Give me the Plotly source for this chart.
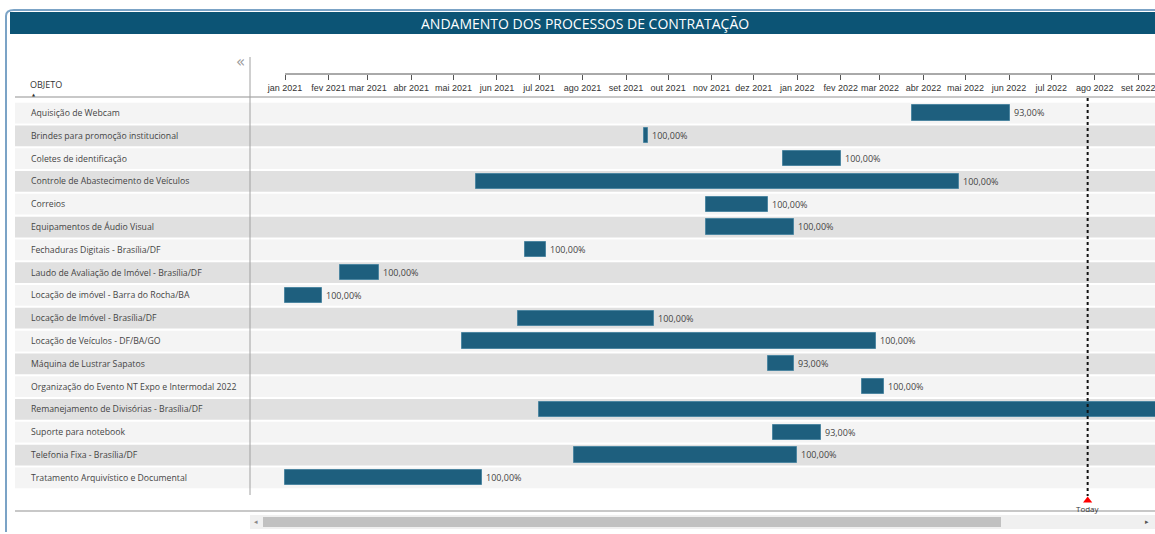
import pandas as pd
import plotly.graph_objects as go

objetos = [
    'Aquisição de Webcam',
    'Brindes para promoção institucional',
    'Coletes de identificação',
    'Controle de Abastecimento de Veículos',
    'Correios',
    'Equipamentos de Áudio Visual',
    'Fechaduras Digitais - Brasília/DF',
    'Laudo de Avaliação de Imóvel - Brasília/DF',
    'Locação de imóvel - Barra do Rocha/BA',
    'Locação de Imóvel - Brasília/DF',
    'Locação de Veículos - DF/BA/GO',
    'Máquina de Lustrar Sapatos',
    'Organização do Evento NT Expo e Intermodal 2022',
    'Remanejamento de Divisórias - Brasília/DF',
    'Suporte para notebook',
    'Telefonia Fixa - Brasília/DF',
    'Tratamento Arquivístico e Documental',
]
inicio = ['2022-03-24', '2021-09-14', '2021-12-22', '2021-05-17', '2021-10-28',
          '2021-10-28', '2021-06-21', '2021-02-09', '2021-01-01', '2021-06-16',
          '2021-05-07', '2021-12-11', '2022-02-16', '2021-07-01', '2021-12-15',
          '2021-07-26', '2021-01-01']
fim = ['2022-06-02', '2021-09-17', '2022-02-01', '2022-04-26', '2021-12-11',
       '2021-12-30', '2021-07-06', '2021-03-09', '2021-01-27', '2021-09-21',
       '2022-02-26', '2021-12-30', '2022-03-04', '2022-10-31', '2022-01-18',
       '2022-01-01', '2021-05-21']
andamento = ['93,00%', '100,00%', '100,00%', '100,00%', '100,00%', '100,00%',
             '100,00%', '100,00%', '100,00%', '100,00%', '100,00%', '93,00%',
             '100,00%', '100,00%', '93,00%', '100,00%', '100,00%']

meses = pd.date_range('2021-01-01', '2022-09-01', freq='MS')
meses_txt = ['jan', 'fev', 'mar', 'abr', 'mai', 'jun', 'jul', 'ago', 'set', 'out', 'nov', 'dez']
tick_labels = [f'{meses_txt[m.month - 1]} {m.year}' for m in meses]
hoje = '2022-07-27'

W, H = 1155, 534
L, R, T, B = 250, 0, 10, 23
PW, PH = W - L - R, H - T - B


def px_x(p):
    return (p - L) / PW


def px_y(p):
    return (H - B - p) / PH


ini = pd.to_datetime(inicio)
dur = (pd.to_datetime(fim) - ini).total_seconds() * 1000

bar_color = '#1e5f7e'
fig = go.Figure()
fig.add_trace(go.Bar(
    y=objetos, base=ini, x=dur, orientation='h', width=0.66,
    marker=dict(color=bar_color, line=dict(color='#4d86a1', width=1)),
    text=['\u2009' + t for t in andamento], textposition='outside', cliponaxis=True,
    textfont=dict(family='Open Sans', size=9, color='#444444'),
    hoverinfo='skip', showlegend=False))

# marcador "Today"
fig.add_trace(go.Scatter(
    x=[hoje], y=[16.97], mode='markers',
    marker=dict(symbol='triangle-up', size=8, color='#ff0000'),
    hoverinfo='skip', showlegend=False, cliponaxis=False))

# eixo de datas (topo) como subplot separado
fig.add_trace(go.Scatter(x=[hoje], y=[0], xaxis='x2', yaxis='y2', mode='markers',
                         marker=dict(opacity=0), hoverinfo='skip', showlegend=False))

x_range = ['2020-12-07', '2022-09-13']

shapes = []
ann = []
# faixas alternadas
for i, nome in enumerate(objetos):
    shapes.append(dict(type='rect', xref='paper', yref='y', layer='below',
                       x0=px_x(15), x1=1, y0=i - 0.455, y1=i + 0.455,
                       fillcolor='#f4f4f4' if i % 2 == 0 else '#e0e0e0', line=dict(width=0)))
    ann.append(dict(text=nome, xref='paper', yref='y', x=px_x(29), y=i,
                    xanchor='left', yanchor='middle', showarrow=False,
                    font=dict(family='Open Sans', size=8.7, color='#444444')))

# linhas de cabeçalho/rodapé e divisor
shapes += [
    dict(type='line', xref='paper', yref='paper', x0=px_x(15), x1=1, y0=px_y(97), y1=px_y(97),
         line=dict(color='#c8c8c8', width=2)),
    dict(type='line', xref='paper', yref='paper', x0=px_x(15), x1=1, y0=px_y(511), y1=px_y(511),
         line=dict(color='#c8c8c8', width=2)),
    dict(type='line', xref='paper', yref='paper', x0=0, x1=0, y0=px_y(57), y1=px_y(495),
         line=dict(color='#a0a0a0', width=1)),
    # linha de hoje
    dict(type='line', xref='x', yref='paper', x0=hoje, x1=hoje, y0=px_y(98), y1=px_y(496),
         line=dict(color='#111111', width=2, dash='dot')),
    # linha do eixo de datas
    dict(type='line', xref='x2', yref='paper', x0=meses[0], x1=x_range[1], y0=px_y(74), y1=px_y(74),
         line=dict(color='#555555', width=1)),
    # banner do título
    dict(type='rect', xref='paper', yref='paper', x0=px_x(10), x1=1, y0=px_y(34), y1=px_y(12),
         fillcolor='#0c5475', line=dict(width=0)),
    # borda do cartão
    dict(type='path', xref='paper', yref='paper',
         path=f'M {px_x(6)},{px_y(532)} L {px_x(6)},{px_y(16)} Q {px_x(6)},{px_y(10)} {px_x(14)},{px_y(10)} L 1,{px_y(10)}',
         line=dict(color='#7ba3c6', width=2)),
    # barra de rolagem
    dict(type='rect', xref='paper', yref='paper', x0=0, x1=1, y0=px_y(529), y1=px_y(515),
         fillcolor='#f0f0f0', line=dict(width=0)),
    dict(type='rect', xref='paper', yref='paper', x0=px_x(263), x1=px_x(1001), y0=px_y(527), y1=px_y(517),
         fillcolor='#c1c1c1', line=dict(width=0)),
]


def txt(text, x, y, size, color='#333333', family='Open Sans', xanchor='center', xref='paper'):
    return dict(text=text, xref=xref, yref='paper', x=x, y=y, xanchor=xanchor, yanchor='middle',
                showarrow=False, font=dict(family=family, size=size, color=color))


ann += [
    txt('ANDAMENTO DOS PROCESSOS DE CONTRATAÇÃO', px_x(585), px_y(24), 14, 'white'),
    txt('OBJETO', px_x(28), px_y(85), 9, xanchor='left'),
    txt('▲', px_x(30), px_y(94), 4, family='DejaVu Sans', xanchor='left'),
    txt('«', px_x(240), px_y(62), 15, '#999999', family='DejaVu Sans'),
    txt('Today', hoje, px_y(508), 8, xref='x'),
    txt('◂', px_x(256), px_y(522), 7, '#888888', family='DejaVu Sans'),
    txt('▸', px_x(1147), px_y(522), 7, '#555555', family='DejaVu Sans'),
]

fig.update_layout(
    width=W, height=H,
    margin=dict(l=L, r=R, t=T, b=B),
    paper_bgcolor='white', plot_bgcolor='rgba(0,0,0,0)',
    bargap=0,
    shapes=shapes, annotations=ann,
    xaxis=dict(type='date', range=x_range, showgrid=False, zeroline=False,
               showticklabels=False, ticks='', showline=False, domain=[0, 1]),
    yaxis=dict(range=[17.456, -0.658], showgrid=False, zeroline=False,
               showticklabels=False, ticks='', domain=[0, px_y(98)]),
    xaxis2=dict(type='date', range=x_range, matches='x', anchor='y2',
                tickvals=meses, ticktext=tick_labels, ticks='outside', ticklen=5,
                tickcolor='#555555', showgrid=False, zeroline=False, showline=False,
                ticklabeloverflow='allow',
                tickfont=dict(family='Liberation Sans', size=9, color='#333333')),
    yaxis2=dict(domain=[px_y(74), px_y(73)], visible=False, range=[0, 1]),
)

# remove a margem padrão do body para o gráfico ocupar a janela inteira
fig.write_html('out.html', config={'displayModeBar': False},
               post_script="document.body.style.margin='0';"
               "document.documentElement.style.overflow='hidden';")
